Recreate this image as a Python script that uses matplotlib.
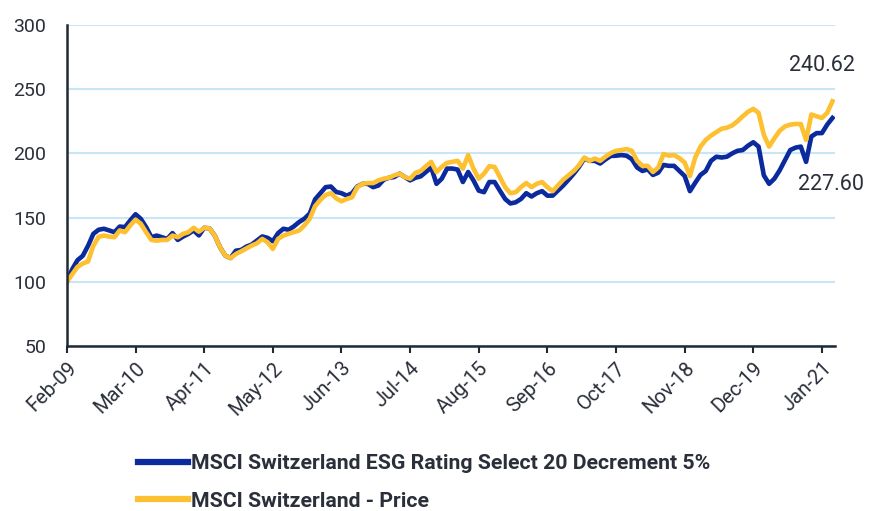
import pandas as pd
import matplotlib
matplotlib.use("Agg")
import matplotlib.pyplot as plt

months = pd.date_range("2009-02-01", periods=146, freq="MS")

esg_values = [
    100, 109.7, 116.8, 120.2, 128, 137.3, 140.5, 141.3, 140, 138.6,
    143, 142.6, 147.8, 152.6, 149, 142.6, 134.7, 136, 134.7, 133.4,
    137.9, 132.6, 135.2, 137.3, 140, 136.1, 142, 141.6, 136, 126.9,
    120.3, 118.5, 124.2, 124.8, 127.4, 129, 132.1, 135.3, 134.2, 131.6,
    137.9, 141.3, 140.5, 143.2, 146.6, 149.2, 153.2, 164.2, 169, 173.7,
    174.2, 170, 169, 167.1, 169, 174.2, 176.3, 176.3, 173.7, 175,
    179.5, 181, 181.6, 184.2, 181.6, 179, 181, 182.1, 185.5, 189,
    176.3, 180.3, 188.2, 188.2, 187.4, 177.7, 185.5, 179, 171, 169.8,
    177.7, 177.7, 171, 164.5, 161, 161.9, 164.5, 169, 166.4, 169,
    170.6, 167.1, 167.1, 171, 175, 179.5, 184.2, 189.5, 196, 194.2,
    194.2, 192.1, 195.3, 198, 198.2, 198.7, 198.2, 195.5, 189, 186.3,
    187.6, 183.2, 185, 191, 190.3, 190.3, 186.3, 182.4, 170.6, 177.1,
    183.2, 186.3, 194.2, 197.4, 196.8, 197.4, 200, 202, 202.6, 206,
    208.7, 205.3, 182.9, 176.3, 180.3, 186.8, 194.7, 202.6, 204.5, 205.3,
    193.4, 213.2, 215.8, 215.8, 222.4, 227.60,
]

price_values = [
    100, 105.8, 111.6, 114.2, 115.8, 128, 135, 136, 135.2, 134.7,
    140, 138.6, 143.9, 148.4, 145.2, 138.6, 132.6, 132, 132.6, 132.6,
    136, 134.7, 137.3, 138.6, 142, 139, 142, 141.6, 136, 126.9,
    120.3, 118.5, 121.6, 123.7, 126, 128.2, 130, 133.4, 130.8, 125.6,
    133.4, 136, 137.4, 138.7, 140, 144, 149.2, 158.9, 163.7, 167.6,
    169, 165, 162.7, 164.5, 165.8, 173.7, 176.3, 176.9, 176.9, 179,
    180.3, 181, 182.9, 184.2, 181.6, 180.3, 184.8, 186.3, 190, 193.4,
    185.5, 189.5, 192.6, 193.4, 194.2, 188.2, 198.7, 188.2, 180.3, 184.2,
    190, 189.5, 181.6, 173.7, 169, 169.8, 173.7, 176.9, 173.7, 176.3,
    177.7, 173.7, 170.6, 175, 179.5, 182.9, 186.3, 190.8, 196.8, 194.2,
    196, 194.2, 197.4, 200.2, 202, 202.6, 203.4, 202, 194.2, 190.3,
    190.3, 185.5, 189, 199.5, 198.2, 198.7, 196.3, 192.9, 182.4, 196.8,
    205.3, 210.5, 213.9, 216.6, 219.2, 220, 221.8, 225, 228.9, 232.4,
    234.7, 231.6, 214.5, 205.3, 211.8, 217.6, 221, 222.4, 222.9, 222.9,
    210.5, 230.3, 228.9, 227.6, 231.6, 240.62,
]

esg_label = "MSCI Switzerland ESG Rating Select 20 Decrement 5%"
price_label = "MSCI Switzerland - Price"

blue = "#0a2a9e"
yellow = "#fdc030"
text_col = "#2a2f3a"

plt.rcParams["font.family"] = ["Roboto", "DejaVu Sans"]

x = list(range(len(months)))
tick_pos = x[::13]
tick_labels = [months[i].strftime("%b-%y") for i in tick_pos]

fig = plt.figure(figsize=(8.69, 5.11), dpi=100)
ax = fig.add_axes([0.077, 0.323, 0.884, 0.628])

ax.plot(x, esg_values, color=blue, lw=3.3, label=esg_label, solid_joinstyle="round")
ax.plot(x, price_values, color=yellow, lw=3.3, label=price_label, solid_joinstyle="round")

ax.set_xlim(0, 145.5)
ax.set_ylim(50, 300)
ax.set_yticks([50, 100, 150, 200, 250, 300])
ax.yaxis.grid(True, color="#c8e6f8", lw=1.5)
ax.set_axisbelow(True)
ax.tick_params(axis="y", length=0, labelsize=14, labelcolor=text_col, pad=15)
ax.set_xticks(tick_pos)
ax.set_xticklabels(tick_labels, rotation=45, ha="right", rotation_mode="anchor")
ax.tick_params(axis="x", length=5, width=1.5, color="#1f2a33", labelsize=14.5,
               labelcolor=text_col, pad=4)

for side in ["top", "right"]:
    ax.spines[side].set_visible(False)
for side in ["left", "bottom"]:
    ax.spines[side].set_color("#1f2a33")
    ax.spines[side].set_linewidth(1.8)

ax.text(143, 268.5, f"{price_values[-1]:.2f}", ha="center", va="center",
        fontsize=15.5, color=text_col)
ax.text(144.7, 175.5, f"{esg_values[-1]:.2f}", ha="center", va="center",
        fontsize=15.5, color=text_col)

leg = fig.legend(loc="upper left", bbox_to_anchor=(0.137, 0.148), frameon=False,
                 handlelength=2.35, handletextpad=0.12, labelspacing=0.85,
                 prop={"family": ["Roboto", "DejaVu Sans"],
                       "weight": "bold", "size": 15.3})
for t in leg.get_texts():
    t.set_color(text_col)
for h in leg.legend_handles:
    h.set_linewidth(4.5)

fig.savefig("out.png", dpi=100)
